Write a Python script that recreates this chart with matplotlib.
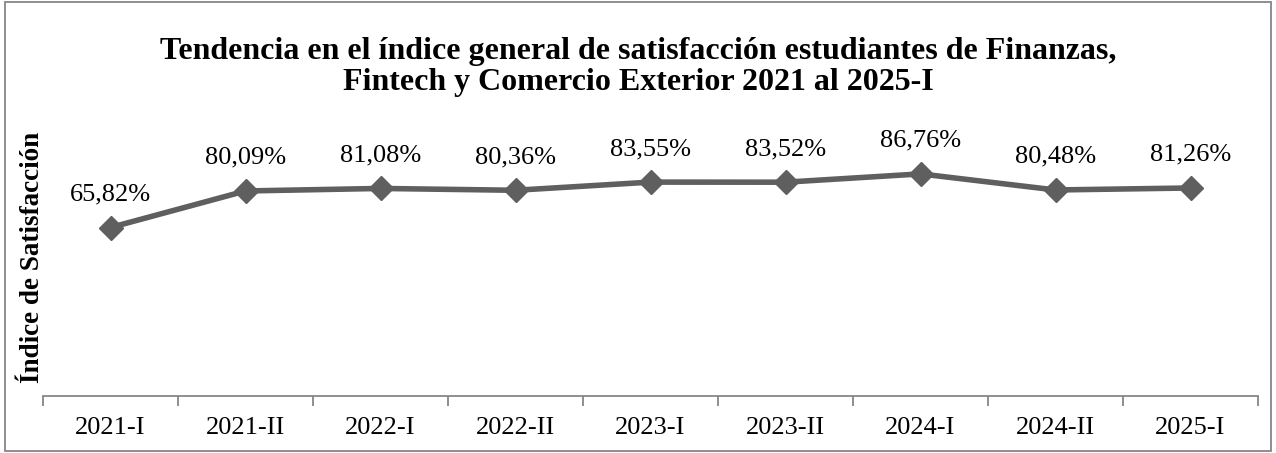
import matplotlib.pyplot as plt
from matplotlib.patches import Rectangle

# -------- data --------
periods = ["2021-I", "2021-II", "2022-I", "2022-II", "2023-I",
           "2023-II", "2024-I", "2024-II", "2025-I"]
satisfaction = [65.82, 80.09, 81.08, 80.36, 83.55, 83.52, 86.76, 80.48, 81.26]

TITLE = ("Tendencia en el índice general de satisfacción estudiantes de Finanzas,\n"
         "Fintech y Comercio Exterior 2021 al 2025-I")
YLABEL = "Índice de Satisfacción"

plt.rcParams["font.family"] = ["Liberation Serif", "DejaVu Serif"]

fig = plt.figure(figsize=(12.76, 4.53), dpi=100)
ax = fig.add_axes([43 / 1276, (453 - 396) / 453, (1258 - 43) / 1276, 256 / 453])

xs = [i + 0.5 for i in range(len(periods))]
ax.plot(xs, satisfaction, color="#5f5f5f", lw=4, marker="D", ms=12,
        markerfacecolor="#5f5f5f", markeredgecolor="#5f5f5f")

for x, v in zip(xs, satisfaction):
    ax.annotate(f"{v:.2f}%".replace(".", ","), (x, v), xytext=(0, 19.5),
                textcoords="offset points", ha="center", va="baseline", fontsize=19)

ax.set_xlim(0, len(periods))
ax.set_ylim(0, 100)
ax.set_yticks([])
ax.set_xticks(range(len(periods) + 1))
ax.set_xticklabels([])
ax.set_xticks(xs, minor=True)
ax.set_xticklabels(periods, minor=True, fontsize=19)
ax.tick_params(axis="x", which="major", length=7, color="#868686", width=1.3)
ax.tick_params(axis="x", which="minor", length=0, pad=15)

for s in ["top", "right", "left"]:
    ax.spines[s].set_visible(False)
ax.spines["bottom"].set_color("#868686")
ax.spines["bottom"].set_linewidth(1.3)

fig.text(0.5, 1 - 67 / 453, TITLE, ha="center", va="center", fontsize=23,
         fontweight="bold", linespacing=1.12)
fig.text(33 / 1276, 1 - 257 / 453, YLABEL, ha="center", va="center",
         rotation=90, fontsize=19.5, fontweight="bold")

fig.patches.append(Rectangle((0.004, 0.004), 0.992, 0.992, transform=fig.transFigure,
                             fill=False, edgecolor="#868686", lw=1.3))

fig.savefig("out.png", dpi=100)
